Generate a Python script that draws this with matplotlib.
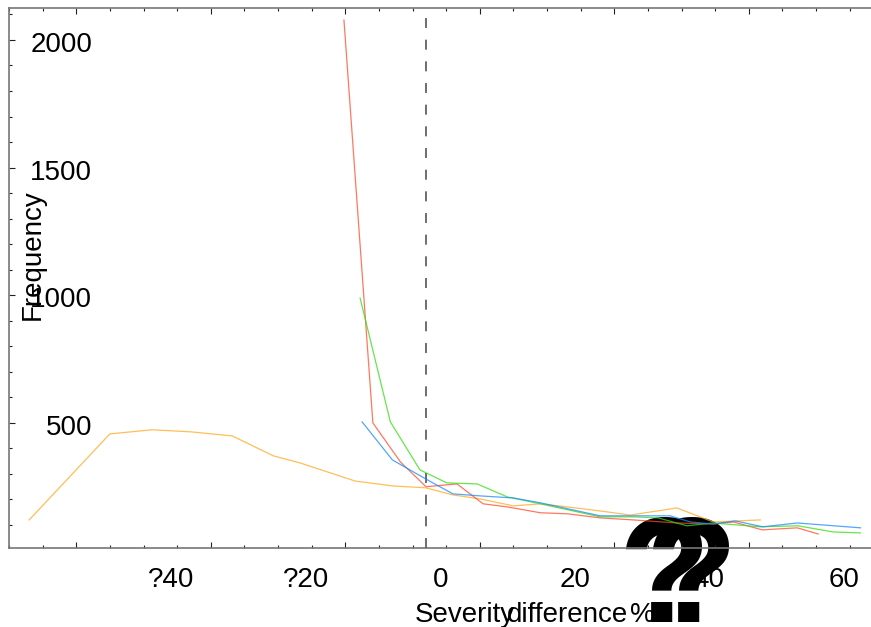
import numpy as np
import matplotlib
matplotlib.use("Agg")
import matplotlib.pyplot as plt
import matplotlib.transforms as mtransforms
from matplotlib.ticker import MultipleLocator, FixedLocator

plt.rcParams['font.family'] = ['Liberation Sans', 'DejaVu Sans']

# series (x = severity difference %, y = frequency)
orange_x = [-62, -50, -43.7, -38, -31.8, -25.7, -21.7, -13.5, -7.9, -3.1, 1.0, 5.1, 10.0, 14.0, 18.0, 22.9, 27.4, 34.3, 39.7, 46.7]
orange_y = [120, 457, 473, 465, 449, 371, 343, 272, 253, 246, 218, 202, 175, 183, 171, 155, 139, 167, 112, 120]

red_x = [-15.2, -10.9, -6.8, -3.0, 1.6, 5.5, 9.1, 14.0, 18.0, 22.9, 27.8, 34.3, 39.7, 42.7, 47.0, 52.2, 55.3]
red_y = [2078, 500, 347, 250, 261, 183, 171, 148, 144, 128, 120, 108, 104, 112, 81, 89, 65]

green_x = [-12.8, -8.3, -3.9, 0.1, 4.6, 9.1, 14.0, 22.9, 27.8, 31.5, 35.8, 39.7, 46.7, 52.3, 57.5, 61.6]
green_y = [989, 504, 316, 265, 261, 210, 183, 132, 132, 128, 97, 108, 93, 97, 73, 69]

blue_x = [-12.5, -8.0, -2.8, 1.0, 5.1, 10.0, 14.0, 22.9, 26.3, 33.3, 36.3, 39.7, 43.0, 47.1, 52.2, 61.6]
blue_y = [504, 355, 277, 222, 214, 206, 187, 136, 136, 136, 112, 104, 116, 93, 108, 89]

x_ticklabels = ["?40", "?20", "0", "20", "40", "60"]
x_tickvalues = [-40, -20, 0, 20, 40, 60]
y_tickvalues = [500, 1000, 1500, 2000]
mean_line = -3

fig = plt.figure(figsize=(8.71, 6.27), dpi=100)
ax = fig.add_axes([9 / 871, 79 / 627, 871 / 871, 540 / 627])
ax.patch.set_visible(False)
ax.set_xlim(-65, 64.5)
ax.set_ylim(10, 2125)

ax.plot(orange_x, orange_y, color='#ffa820', lw=0.9, alpha=0.75, zorder=5)
ax.plot(red_x, red_y, color='#ff4a2a', lw=0.9, alpha=0.75, zorder=5)
ax.plot(green_x, green_y, color='#33dd10', lw=0.9, alpha=0.75, zorder=5)
ax.plot(blue_x, blue_y, color='#1a88ff', lw=0.9, alpha=0.75, zorder=5)

ax.axvline(mean_line, ymin=0, ymax=0.99, color='#555555', lw=1.2, dashes=(6, 7), zorder=4)

for s in ['left', 'bottom', 'top']:
    ax.spines[s].set_color('#777777')
    ax.spines[s].set_linewidth(1.2)
ax.spines['right'].set_visible(False)

ax.xaxis.set_major_locator(FixedLocator([-55, -35, -15, 5, 25, 45]))
ax.xaxis.set_minor_locator(MultipleLocator(5))
ax.yaxis.set_major_locator(FixedLocator(y_tickvalues))
ax.yaxis.set_minor_locator(MultipleLocator(100))
ax.tick_params(axis='x', which='both', direction='in', top=True, bottom=True,
               labelbottom=False, color='#222222', width=0.8)
ax.tick_params(axis='y', which='both', direction='in', left=True, right=False,
               labelleft=False, color='#222222', width=0.8)
ax.tick_params(which='major', length=4.5)
ax.tick_params(which='minor', length=2.5)

# tick labels, offset the way they sit in the picture
xtr = mtransforms.blended_transform_factory(ax.transData, fig.transFigure)
xtr = xtr + mtransforms.ScaledTranslation(-6 / 100, 0, fig.dpi_scale_trans)
for v, lab in zip(x_tickvalues, x_ticklabels):
    ax.text(v, (627 - 580) / 627, lab, transform=xtr, ha='center', va='center',
            fontsize=20, clip_on=False)

ytr = mtransforms.blended_transform_factory(fig.transFigure, ax.transData)
ytr = ytr + mtransforms.ScaledTranslation(0, -5 / 100, fig.dpi_scale_trans)
for v in y_tickvalues:
    ax.text(92 / 871, v, str(v), transform=ytr, ha='right', va='center',
            fontsize=20, clip_on=False)

fig.text(33 / 871, 1 - 255 / 627, "Frequency", rotation=90, ha='center', va='center', fontsize=20)

base = (627 - 622) / 627
fig.text(415 / 871, base, "Severity", ha='left', va='baseline', fontsize=20)
fig.text(507 / 871, base, "difference", ha='left', va='baseline', fontsize=20)
fig.text(630 / 871, base, "%", ha='left', va='baseline', fontsize=20)

# the two big question marks sit under the curves
qfam = ['Liberation Sans Narrow', 'Liberation Sans', 'DejaVu Sans']
fig.text(664 / 871, base, "?", ha='center', va='baseline', fontsize=108,
         fontweight='bold', family=qfam, zorder=-1)
fig.text(691 / 871, base, "?", ha='center', va='baseline', fontsize=108,
         fontweight='bold', family=qfam, zorder=-1)

fig.savefig("out.png", dpi=100)
